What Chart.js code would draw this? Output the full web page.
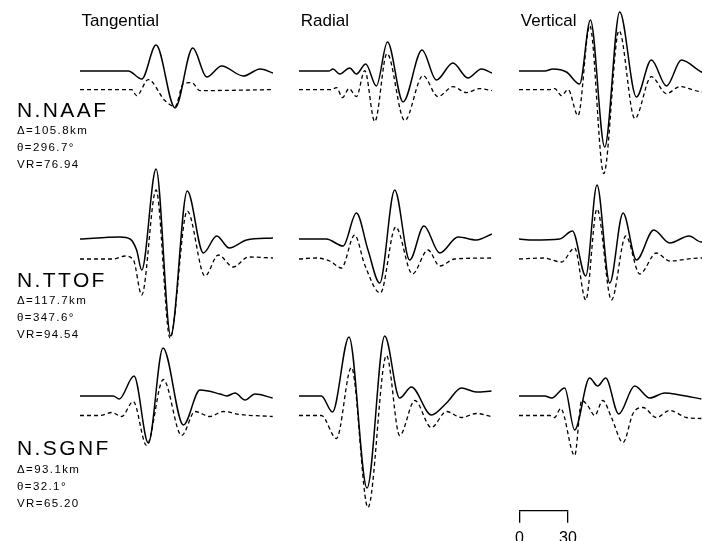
<!DOCTYPE html>
<html>
<head>
<meta charset="utf-8">
<script src="https://cdn.jsdelivr.net/npm/chart.js@4/dist/chart.umd.min.js"></script>
<style>
  html, body { margin: 0; padding: 0; background: #fff; overflow: hidden; }
  #page { position: relative; width: 702px; height: 541px; overflow: hidden;
          font-family: "Liberation Sans", Arial, sans-serif; color: #000; }
  #page canvas { position: absolute; }
  .lbl { position: absolute; white-space: nowrap; line-height: 1; }
  .comp { font-size: 17px; }
  .sta { font-size: 21px; letter-spacing: 2.4px; }
  .info { font-size: 11.5px; letter-spacing: 1.4px; }
</style>
</head>
<body>
<div id="page"></div>
<script>
// labels
const components = ["Tangential", "Radial", "Vertical"];
const stations = ["N.NAAF", "N.TTOF", "N.SGNF"];
const distances = ["105.8", "117.7", "93.1"];
const azimuths = ["296.7", "347.6", "32.1"];
const varReductions = ["76.94", "94.54", "65.20"];
const scaleTicks = [0, 30];

// waveforms: [time s, amplitude], observed (solid) and synthetic (dashed)
const naafTanObs = [[0,0],[30,0],[38.4,-8],[47.3,26],[59.1,-37],[70.1,23],[78.8,-6],[88.1,5],[101.6,-5],[112,2],[120,-2]];
const naafTanSyn = [[0,0],[32.1,0],[35.2,-6],[42.5,10],[52.8,-11],[59.1,-17],[64.3,6],[69.5,7],[74.6,-1],[120,0]];
const naafRadObs = [[0,0],[18.7,0],[21.1,2],[25.3,-3],[31.5,3],[35.7,-3],[41.5,7],[48.1,-15],[55,29],[64.7,-31],[76.5,21],[85.4,-9],[95.7,8],[105,-7],[113.4,2],[120,-2]];
const naafRadSyn = [[0,0],[20.1,0],[23.3,2],[27,-8],[31.1,1],[35.7,-7],[40.9,19],[47.1,-32],[54.7,36],[65.7,-31],[77.1,14],[86.4,-7],[95.8,3],[104.1,-3],[112.4,1],[120,-1]];
const naafVerObs = [[0,0],[16,0],[21.1,2],[29.5,-1],[37.7,-13],[44.4,51],[53.3,-76],[62.6,59],[73,-26],[82.3,11],[91.7,-15],[101,11],[113.4,-1],[120,-4]];
const naafVerSyn = [[0,0],[19.1,0],[22.2,1],[26.4,-6],[30.5,0],[36.7,-26],[44,64],[52.7,-84],[62.2,59],[72,-29],[82.3,13],[91.7,-4],[100,3],[113.4,-2],[120,-2]];

const ttofTanObs = [[0,0],[24.9,2],[31.1,0],[35.2,-11],[38.4,-31],[47.3,70],[56.4,-97],[66.7,48],[76.7,-14],[85,3],[92.8,-9],[103.6,-1],[120,1]];
const ttofTanSyn = [[0,0],[20.7,0],[28,3],[33.2,-1],[38.4,-36],[47.3,69],[56,-79],[66.7,48],[77.7,-17],[86,4],[95.3,-8],[104.7,2],[120,1]];
const ttofRadObs = [[0,0],[17,0],[27.4,-7],[35.7,26],[42.9,-11],[50.2,-44],[59.5,49],[68.8,-21],[77.7,13],[87.5,-14],[98.9,2],[110.3,-1],[120,5]];
const ttofRadSyn = [[0,0],[10.8,1],[19.1,-2],[26.4,-9],[34.6,24],[40.9,-6],[50.6,-34],[60.1,32],[70.5,-15],[80.2,9],[87.5,-7],[96.8,0],[120,1]];
const ttofVerObs = [[0,0],[8.7,-1],[25.3,0],[33.2,8],[41.5,-37],[48.5,54],[56.4,-44],[64.7,26],[73,-21],[83.8,9],[93.7,-4],[105.7,3],[113.4,-3],[120,-2]];
const ttofVerSyn = [[0,0],[14.9,1],[26.4,-3],[34.6,11],[41.5,-41],[48.5,50],[57.5,-41],[66.4,23],[75.1,-15],[85.4,6],[93.7,-2],[112.4,1],[120,0]];

const sgnfTanObs = [[0,0],[20.7,0],[24.4,-3],[33.6,20],[42.5,-47],[51.6,48],[64.3,-29],[74.6,6],[87.1,2],[91.2,0],[96.4,3],[102.6,-4],[108.8,2],[119.8,-2]];
const sgnfTanSyn = [[0,0],[12.4,0],[19.7,3],[25.9,-1],[33.1,14],[41.4,-30],[51.8,36],[63.2,-20],[71.5,4],[80.8,-1],[89.1,4],[99.5,1],[119.8,-1]];
const sgnfRadObs = [[0,0],[13.9,0],[20.8,-16],[31.1,59],[42.3,-92],[53.3,60],[62.6,-2],[69.9,9],[82.3,-19],[91.7,-7],[101,8],[110.3,4],[119.7,5]];
const sgnfRadSyn = [[0,0],[13.9,0],[23.3,-23],[32.6,48],[42.9,-92],[54.4,60],[62.6,-20],[72,15],[82.3,-12],[91.7,4],[101,-2],[110.3,2],[119.7,-1]];
const sgnfVerObs = [[0,0],[16,0],[20.3,-2],[28.4,8],[34.6,-34],[43.9,18],[48.9,10],[53.9,18],[62,-18],[71.9,10],[81.3,-2],[90.6,3],[100,1],[113.4,-3]];
const sgnfVerSyn = [[0,0],[19.1,0],[22.2,-2],[25.9,7],[34.6,-40],[39,15],[42.7,10],[47.1,0],[52.1,15],[57.5,-2],[64.7,-27],[70.9,2],[77.1,8],[85.4,-2],[93.7,5],[104.1,-2],[113.4,-3]];

// layout
const colLeft = [80, 299.3, 519.3];
const rowBase = [70.7, 239.3, 396];
const synGap = [18.6, 20, 19.5];
const traceWidth = 193;
const ampTop = 100, ampBottom = 130;

const panels = [
  [naafTanObs, naafTanSyn], [naafRadObs, naafRadSyn], [naafVerObs, naafVerSyn],
  [ttofTanObs, ttofTanSyn], [ttofRadObs, ttofRadSyn], [ttofVerObs, ttofVerSyn],
  [sgnfTanObs, sgnfTanSyn], [sgnfRadObs, sgnfRadSyn], [sgnfVerObs, sgnfVerSyn]
];

const page = document.getElementById("page");

function addLabel(text, cls, left, top) {
  const d = document.createElement("div");
  d.className = "lbl " + cls;
  d.textContent = text;
  d.style.left = left + "px";
  d.style.top = top + "px";
  page.appendChild(d);
}

function addCanvas(left, top, w, h) {
  const c = document.createElement("canvas");
  c.width = w;
  c.height = h;
  c.style.left = left + "px";
  c.style.top = top + "px";
  page.appendChild(c);
  return c;
}

const toPoints = (pairs, shift) => pairs.map(([t, a]) => ({ x: t, y: a + shift }));

panels.forEach(([obs, syn], i) => {
  const row = Math.floor(i / 3), col = i % 3;
  const canvas = addCanvas(colLeft[col], rowBase[row] - ampTop, traceWidth, ampTop + ampBottom);
  new Chart(canvas, {
    type: "line",
    data: {
      datasets: [
        { data: toPoints(obs, 0), borderColor: "#000", borderWidth: 1.5,
          pointRadius: 0, cubicInterpolationMode: "monotone" },
        { data: toPoints(syn, -synGap[row]), borderColor: "#000", borderWidth: 1.3,
          borderDash: [4, 3], pointRadius: 0, cubicInterpolationMode: "monotone" }
      ]
    },
    options: {
      responsive: false,
      animation: false,
      events: [],
      layout: { padding: 0 },
      plugins: { legend: { display: false }, tooltip: { enabled: false } },
      scales: {
        x: { type: "linear", min: 0, max: 120, display: false },
        y: { min: -ampBottom, max: ampTop, display: false }
      }
    }
  });
});

// column titles
const compTop = 12;
components.forEach((c, i) => addLabel(c, "comp", colLeft[i] + 1.5, compTop));

// station blocks
const staTop = [98.9, 268.9, 437.2];
stations.forEach((s, i) => {
  const y = staTop[i];
  addLabel(s, "sta", 17, y);
  addLabel("\u0394=" + distances[i] + "km", "info", 17, y + 26.5);
  addLabel("\u03b8=" + azimuths[i] + "\u00b0", "info", 17, y + 43.5);
  addLabel("VR=" + varReductions[i], "info", 17, y + 60.3);
});

// time scale bar drawn as an axis
const barCanvas = addCanvas(509, 464, 76, 90);
new Chart(barCanvas, {
  type: "line",
  data: { datasets: [{ data: [] }] },
  options: {
    responsive: false,
    animation: false,
    events: [],
    layout: { padding: { left: 10, right: 17, top: 0, bottom: 0 } },
    plugins: { legend: { display: false }, tooltip: { enabled: false } },
    scales: {
      x: {
        type: "linear", min: scaleTicks[0], max: scaleTicks[1],
        afterBuildTicks: axis => { axis.ticks = scaleTicks.map(v => ({ value: v })); },
        grid: { drawOnChartArea: false, drawTicks: true, tickLength: 12, color: "#000", lineWidth: 1.3 },
        border: { display: true, color: "#000", width: 1.3 },
        ticks: { color: "#000", padding: 6, maxRotation: 0, autoSkip: false,
                 font: { family: "'Liberation Sans', Arial, sans-serif", size: 16 } }
      },
      y: { display: false }
    }
  }
});
</script>
</body>
</html>
